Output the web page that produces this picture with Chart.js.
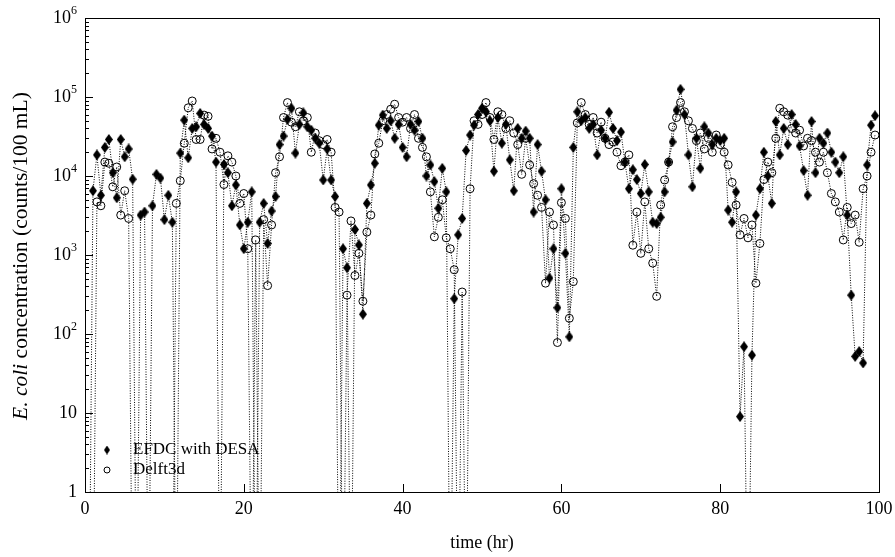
<!DOCTYPE html>
<html>
<head>
<meta charset="utf-8">
<script src="https://cdn.jsdelivr.net/npm/chart.js@4.4.1/dist/chart.umd.min.js"></script>
<style>
  html, body { margin: 0; padding: 0; background: #fff; }
</style>
</head>
<body>
<canvas id="chart" width="895" height="557"></canvas>
<script>
// time axis: one value every half hour, from 0.5 to 99.5 hr
const firstHour = 0.5;
const stepHour = 0.5;

// E. coli (counts/100 mL); 0 = below the plotted range
const efdc = [
  0, 6500, 18500, 5700, 23000, 29000, 11000, 5300, 29000, 17500,
  22000, 9100, 0, 3200, 3500, 0, 4200, 10500, 9400, 2800,
  5700, 2600, 0, 19500, 51000, 17000, 40000, 42000, 62000, 45000,
  40000, 32000, 15000, 0, 14000, 11000, 4200, 7700, 2400, 1200,
  2600, 6300, 0, 2600, 4500, 1400, 3600, 5500, 25000, 32000,
  52000, 72000, 19500, 45000, 63000, 42000, 38000, 30000, 26000, 8900,
  22000, 8900, 5500, 0, 1200, 690, 0, 2100, 1340, 178,
  4500, 7700, 14500, 44000, 59000, 40000, 50000, 30000, 45000, 23000,
  17500, 45000, 38000, 49000, 30000, 10000, 13800, 8500, 3900, 12500,
  6300, 0, 280, 1800, 2900, 21000, 33000, 44000, 60000, 72000,
  65000, 50000, 11500, 55000, 26000, 45000, 16000, 6500, 40000, 30000,
  37000, 30000, 3500, 25000, 11500, 5000, 510, 1200, 215, 6900,
  1050, 92, 23000, 65000, 50000, 55000, 40000, 45000, 18500, 38000,
  30000, 64000, 40000, 28000, 36000, 15000, 6900, 12000, 9000, 6000,
  14000, 6300, 2600, 2500, 3000, 6300, 15000, 27000, 68000, 125000,
  60000, 18500, 7300, 30000, 12500, 42000, 35000, 25000, 30000, 28000,
  30000, 3700, 2600, 6300, 9, 69, 0, 54, 3200, 6900,
  20000, 10000, 4500, 49000, 18500, 40000, 25000, 60000, 45000, 24000,
  11700, 5700, 49000, 11000, 30000, 26000, 35000, 20000, 15000, 11000,
  17500, 3200, 310, 52, 60, 43, 13800, 44000, 58000
];

const delft = [
  0, 0, 4700, 4200, 15000, 14500, 7300, 13000, 3200, 6500,
  2900, 0, 0, 0, 0, 0, 0, 0, 0, 0,
  0, 0, 4500, 8700, 26000, 73000, 89000, 29000, 29000, 59000,
  57000, 22000, 30000, 20000, 7800, 18000, 15000, 10000, 4500, 6000,
  1200, 0, 1550, 0, 2800, 410, 2400, 11000, 17500, 55000,
  85000, 48000, 42000, 65000, 50000, 55000, 20000, 35000, 28000, 25000,
  29000, 20000, 4000, 3500, 0, 310, 2700, 550, 1050, 260,
  1950, 3200, 19000, 26000, 50000, 60000, 70000, 81000, 55000, 48000,
  55000, 40000, 60000, 30000, 23000, 17500, 6300, 1700, 3000, 5000,
  1650, 1200, 650, 0, 340, 0, 6900, 50000, 45000, 60000,
  85000, 55000, 29000, 65000, 60000, 40000, 50000, 35000, 25000, 10500,
  30000, 13800, 8000, 5700, 4000, 440, 3500, 2400, 78, 4600,
  2900, 158, 460, 47000, 85000, 60000, 45000, 55000, 35000, 48000,
  30000, 25000, 27000, 20000, 13500, 15000, 18500, 1330, 3500, 1050,
  4700, 1200, 790, 300, 4300, 8900, 15000, 42000, 55000, 85000,
  65000, 50000, 40000, 28000, 35000, 22000, 30000, 20000, 33000, 25000,
  20000, 13800, 8300, 4300, 1800, 2900, 1650, 2400, 440, 1400,
  9000, 15000, 11000, 30000, 72000, 65000, 59000, 40000, 35000, 38000,
  24000, 30000, 28000, 20000, 15000, 20000, 11000, 6000, 4700, 3500,
  1550, 4000, 2500, 3200, 1450, 6900, 10000, 20000, 33000
];

const xTicks = [0, 20, 40, 60, 80, 100];
const yTicks = [1, 10, 100, 1000, 10000, 100000, 1000000];
const seriesNames = ['EFDC with DESA', 'Delft3d'];

const serif = '"Liberation Serif", "DejaVu Serif", serif';

// zero means "not detected": put it under the axis so the dotted line drops out of the frame
function toPoints(values) {
  return values.map((v, i) => ({ x: firstHour + i * stepHour, y: v > 0 ? v : 0.01 }));
}

function makeDiamond(w, h) {
  const c = document.createElement('canvas');
  c.width = w; c.height = h;
  const g = c.getContext('2d');
  g.fillStyle = '#000';
  g.beginPath();
  g.moveTo(w / 2, 0);
  g.lineTo(w, h / 2);
  g.lineTo(w / 2, h);
  g.lineTo(0, h / 2);
  g.closePath();
  g.fill();
  return c;
}
const diamond = makeDiamond(8, 11);
const smallDiamond = makeDiamond(6, 9);

// frame, inward ticks, labels, legend and axis titles
const decorations = {
  id: 'decorations',
  afterDraw(chart) {
    const ctx = chart.ctx;
    const area = chart.chartArea;
    const xs = chart.scales.x;
    const ys = chart.scales.y;
    ctx.save();
    ctx.strokeStyle = '#000';
    ctx.fillStyle = '#000';
    ctx.lineWidth = 1;

    // box
    ctx.strokeRect(Math.round(area.left) + 0.5, Math.round(area.top) + 0.5,
      Math.round(area.right - area.left), Math.round(area.bottom - area.top));

    // x ticks
    ctx.beginPath();
    xTicks.forEach(v => {
      const x = Math.round(xs.getPixelForValue(v)) + 0.5;
      ctx.moveTo(x, area.bottom);
      ctx.lineTo(x, area.bottom - 8);
    });
    // y ticks, major and minor
    yTicks.forEach((v, i) => {
      const y = Math.round(ys.getPixelForValue(v)) + 0.5;
      ctx.moveTo(area.left, y);
      ctx.lineTo(area.left + 8, y);
      if (i < yTicks.length - 1) {
        for (let k = 2; k <= 9; k++) {
          const ym = Math.round(ys.getPixelForValue(v * k)) + 0.5;
          ctx.moveTo(area.left, ym);
          ctx.lineTo(area.left + 4, ym);
        }
      }
    });
    ctx.stroke();

    // x labels
    ctx.font = '18px ' + serif;
    ctx.textAlign = 'center';
    ctx.textBaseline = 'middle';
    xTicks.forEach(v => {
      ctx.fillText(String(v), xs.getPixelForValue(v), area.bottom + 17);
    });

    // y labels (10 with raised exponent)
    const right = area.left - 8;
    yTicks.forEach(v => {
      const y = ys.getPixelForValue(v);
      const n = Math.round(Math.log10(v));
      ctx.textBaseline = 'middle';
      ctx.textAlign = 'right';
      if (n <= 1) {
        ctx.font = '18px ' + serif;
        ctx.fillText(String(v), right, y);
      } else {
        ctx.font = '12px ' + serif;
        const ew = ctx.measureText(String(n)).width;
        ctx.fillText(String(n), right, y - 7);
        ctx.font = '18px ' + serif;
        ctx.fillText('10', right - ew, y);
      }
    });

    // x title
    ctx.font = '18px ' + serif;
    ctx.textAlign = 'center';
    ctx.fillText('time (hr)', (area.left + area.right) / 2, area.bottom + 51);

    // y title, "E. coli" in italics
    ctx.save();
    ctx.translate(21, (area.top + area.bottom) / 2 + 1);
    ctx.rotate(-Math.PI / 2);
    const t1 = 'E. coli';
    const t2 = ' concentration (counts/100 mL)';
    ctx.font = 'italic 21.5px ' + serif;
    const w1 = ctx.measureText(t1).width;
    ctx.font = '21.5px ' + serif;
    const w2 = ctx.measureText(t2).width;
    let start = -(w1 + w2) / 2;
    ctx.textAlign = 'left';
    ctx.font = 'italic 21.5px ' + serif;
    ctx.fillText(t1, start, 0);
    ctx.font = '21.5px ' + serif;
    ctx.fillText(t2, start + w1, 0);
    ctx.restore();

    // legend
    const lx = area.left + 22;
    const ly1 = area.bottom - 42;
    const ly2 = area.bottom - 22;
    ctx.drawImage(smallDiamond, lx - 3, ly1 - 4.5);
    ctx.beginPath();
    ctx.arc(lx, ly2, 3, 0, Math.PI * 2);
    ctx.stroke();
    ctx.font = '17px ' + serif;
    ctx.textAlign = 'left';
    ctx.textBaseline = 'middle';
    ctx.fillText(seriesNames[0], lx + 26, ly1);
    ctx.fillText(seriesNames[1], lx + 26, ly2);

    ctx.restore();
  }
};

new Chart(document.getElementById('chart'), {
  type: 'line',
  data: {
    datasets: [
      {
        label: seriesNames[0],
        data: toPoints(efdc),
        order: 1,
        borderColor: '#000',
        borderWidth: 1,
        borderDash: [1, 1.5],
        pointStyle: diamond,
        pointRadius: 4,
        tension: 0,
        fill: false
      },
      {
        label: seriesNames[1],
        data: toPoints(delft),
        order: 0,
        borderColor: '#000',
        borderWidth: 1,
        borderDash: [1, 1.5],
        pointStyle: 'circle',
        pointRadius: 4,
        pointBorderWidth: 1,
        pointBorderColor: '#000',
        pointBackgroundColor: 'rgba(255,255,255,0)',
        tension: 0,
        fill: false
      }
    ]
  },
  options: {
    responsive: false,
    animation: false,
    layout: { padding: { top: 18, right: 16, left: 0, bottom: 0 } },
    plugins: {
      legend: { display: false },
      tooltip: { enabled: false }
    },
    scales: {
      x: {
        type: 'linear',
        min: 0,
        max: 100,
        grid: { display: false },
        border: { display: false },
        ticks: { display: false },
        afterFit: s => { s.height = 65; }
      },
      y: {
        type: 'logarithmic',
        min: 1,
        max: 1000000,
        grid: { display: false },
        border: { display: false },
        ticks: { display: false },
        afterFit: s => { s.width = 85; }
      }
    }
  },
  plugins: [decorations]
});
</script>
</body>
</html>
